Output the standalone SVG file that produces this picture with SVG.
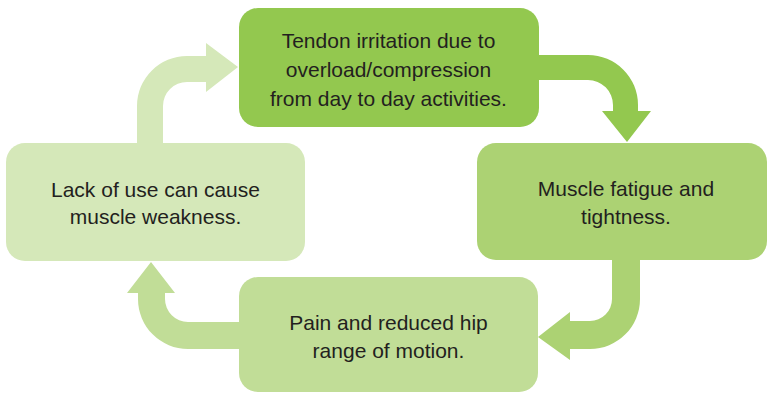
<svg xmlns="http://www.w3.org/2000/svg" width="768" height="393" viewBox="0 0 768 393">
<style>
text{font-family:"Liberation Sans",Arial,sans-serif;font-size:21px;fill:#231f20;text-anchor:middle}
</style>
<rect width="768" height="393" fill="#ffffff"/>
<g id="connectors">
<path d="M137,150 L137,106 A50,50 0 0 1 187,56 L206,56 L206,43 L238,67 L206,92 L206,82 L187,82 A24,24 0 0 0 163,106 L163,150 Z" fill="#d5e8b9"/>
<path d="M530,55 L588,55 A50,50 0 0 1 638,105 L638,111 L651,111 L627,142 L602,111 L613,111 L613,105 A25,25 0 0 0 588,80 L530,80 Z" fill="#93c84f"/>
<path d="M612,255 L612,299 A22,22 0 0 1 590,321 L570,321 L570,312 L538,337 L570,360 L570,349 L590,349 A50,50 0 0 0 640,299 L640,255 Z" fill="#acd273"/>
<path d="M245,322 L188,322 A23,23 0 0 1 165,299 L165,293 L175,293 L151,262 L127,293 L138,293 L138,299 A50,50 0 0 0 188,349 L245,349 Z" fill="#c1dd97"/>
</g>
<g id="node-top">
<rect x="239" y="8" width="300" height="119" rx="19" fill="#93c84f"/>
<text x="388.5" y="48">Tendon irritation due to</text>
<text x="388.5" y="77">overload/compression</text>
<text x="388.5" y="106">from day to day activities.</text>
</g>
<g id="node-right">
<rect x="477" y="143" width="290" height="117" rx="19" fill="#acd273"/>
<text x="626" y="196">Muscle fatigue and</text>
<text x="626" y="224">tightness.</text>
</g>
<g id="node-bottom">
<rect x="239" y="277" width="299" height="115" rx="19" fill="#c1dd97"/>
<text x="388.5" y="330">Pain and reduced hip</text>
<text x="388.5" y="358">range of motion.</text>
</g>
<g id="node-left">
<rect x="6" y="143" width="299" height="118" rx="19" fill="#d5e8b9"/>
<text x="155.5" y="197">Lack of use can cause</text>
<text x="155.5" y="224">muscle weakness.</text>
</g>
</svg>
